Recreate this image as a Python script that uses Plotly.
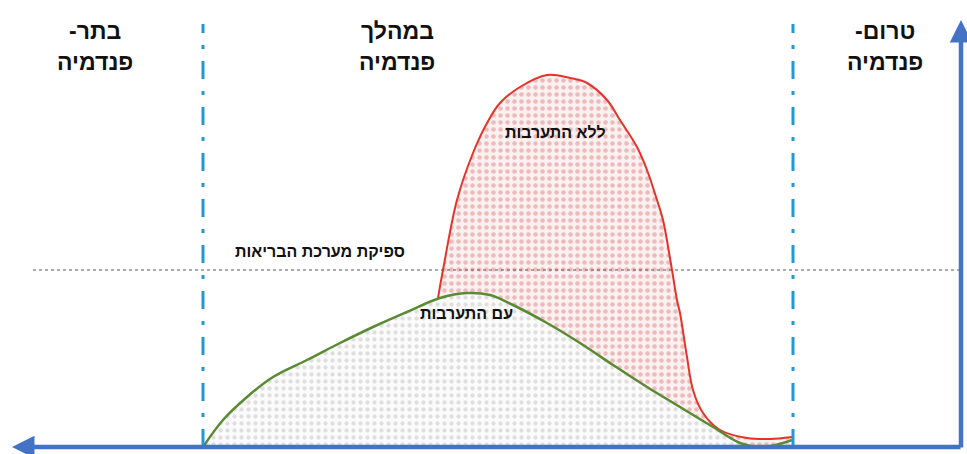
import plotly.graph_objects as go

# time runs right-to-left (t = 0 at the vertical axis), v = load above baseline
green_t = [758, 738, 714, 688, 654, 621, 588, 554, 521, 494, 471, 448, 414, 381, 348, 314, 281, 248, 221, 198, 178, 169]
green_v = [0, 27, 50, 70, 87, 104, 120, 135, 149, 154, 152, 142, 124, 104, 82, 60, 40, 20, 4, 0, 4, 7]

red_t = [523, 518, 504, 488, 474, 461, 441, 414, 391, 374, 354, 341, 324, 314, 304, 298, 289, 284, 281, 274, 268, 258, 241, 214, 191, 169]
red_v = [149, 177, 247, 294, 324, 344, 360, 372, 369, 364, 347, 327, 300, 277, 247, 227, 177, 147, 134, 90, 57, 34, 17, 9, 8, 10]

capacity_level = 177
capacity_start = 928
phase_bounds = [758, 168]

phase_labels = [("בתר-\u200f", "פנדמיה", 866), ("במהלך", "פנדמיה", 564), ("טרום-\u200f", "פנדמיה", 76)]
curve_labels = [("ללא התערבות", 406, 315), ("עם התערבות", 495, 134), ("ספיקת מערכת הבריאות", 641, 196)]

fig = go.Figure()

fig.add_trace(go.Scatter(
    x=red_t, y=red_v, mode="lines", line=dict(color="#e5332a", width=2, shape="spline", smoothing=1.0),
    fill="tozeroy", fillcolor="#fdf0f0",
    fillpattern=dict(shape=".", fgcolor="#d98585", bgcolor="#fdf0f0", size=7, solidity=0.33),
    hoverinfo="skip", showlegend=False))

fig.add_trace(go.Scatter(
    x=green_t, y=green_v, mode="lines", line=dict(color="#5b8a35", width=2.5, shape="spline", smoothing=1.0),
    fill="tozeroy", fillcolor="#fbfbfb",
    fillpattern=dict(shape=".", fgcolor="#c4c4c4", bgcolor="#fbfbfb", size=7, solidity=0.3),
    hoverinfo="skip", showlegend=False))

shapes = []
shapes.append(dict(type="line", xref="x", yref="y", x0=capacity_start, x1=0, y0=capacity_level, y1=capacity_level,
                   line=dict(color="#555555", width=1, dash="dot"), layer="above"))
for b in phase_bounds:
    shapes.append(dict(type="line", xref="x", yref="y", x0=b, x1=b, y0=0, y1=423,
                       line=dict(color="#1f9ad6", width=3, dash="18px,12px,4px,12px"), layer="above"))

annotations = []
annotations.append(dict(x=949, y=0, ax=-1, ay=0, xref="x", yref="y", axref="x", ayref="y", text="",
                        showarrow=True, arrowhead=2, arrowsize=1, arrowwidth=4.5, arrowcolor="#4472c4"))
annotations.append(dict(x=0, y=427, ax=0, ay=-2, xref="x", yref="y", axref="x", ayref="y", text="",
                        showarrow=True, arrowhead=2, arrowsize=1, arrowwidth=4.5, arrowcolor="#4472c4"))

for l1, l2, t in phase_labels:
    annotations.append(dict(x=t, y=416, xref="x", yref="y", text="<b>" + l1 + "</b>", showarrow=False,
                            font=dict(family="Liberation Sans", size=23, color="#111111")))
    annotations.append(dict(x=t, y=385, xref="x", yref="y", text="<b>" + l2 + "</b>", showarrow=False,
                            font=dict(family="Liberation Sans", size=23, color="#111111")))

for txt, t, v in curve_labels:
    annotations.append(dict(x=t, y=v, xref="x", yref="y", text="<b>" + txt + "</b>", showarrow=False,
                            font=dict(family="Liberation Sans", size=16, color="#111111")))

fig.update_layout(
    width=967, height=454, margin=dict(l=0, r=0, t=0, b=0),
    paper_bgcolor="white", plot_bgcolor="white",
    xaxis=dict(range=[961, -6], visible=False, fixedrange=True),
    yaxis=dict(range=[-7, 447], visible=False, fixedrange=True),
    shapes=shapes, annotations=annotations, showlegend=False,
)

fig.write_html("out.html", config={"displayModeBar": False},
               post_script="document.body.style.margin='0';document.body.style.overflow='hidden';")
